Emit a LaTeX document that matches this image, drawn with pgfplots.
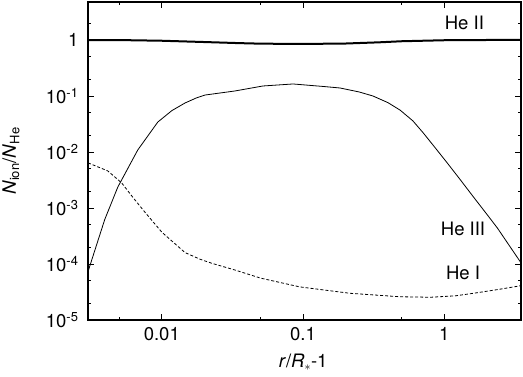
\documentclass[border=0pt]{standalone}
\usepackage{fontspec}
\setmainfont{TeX Gyre Heros}
\usepackage{pgfplots}
\pgfplotsset{compat=1.18}
\begin{document}
\begin{tikzpicture}[font=\fontsize{18.5bp}{22bp}\selectfont]
\useasboundingbox (0,0) rectangle (523bp,377bp);
\begin{axis}[
  at={(88bp,57bp)}, anchor=south west,
  scale only axis, width=433bp, height=318bp,
  xmode=log, ymode=log,
  xmin=0.003, xmax=3.5, ymin=1e-5, ymax=4.77,
  xtick={0.01,0.1,1}, xticklabels={0.01,0.1,1},
  minor xtick={0.005,0.05,0.5},
  ytick={1e-5,1e-4,1e-3,1e-2,1e-1,1},
  yticklabels={10\textsuperscript{-5},10\textsuperscript{-4},10\textsuperscript{-3},10\textsuperscript{-2},10\textsuperscript{-1},1},
  minor ytick={2e-5,5e-5,2e-4,5e-4,2e-3,5e-3,0.02,0.05,0.2,0.5,2},
  tick align=inside, tick pos=both,
  major tick length=6bp, minor tick length=3.5bp,
  tick style={line width=0.8bp, black},
  axis line style={line width=1.6bp},
  yticklabel style={anchor=east, xshift=-6bp},
  xticklabel style={anchor=north, yshift=-4bp},
  xlabel={\textit{r}/\textit{R}\textsubscript{$\ast$}-1},
  ylabel={\textit{N}\textsubscript{ion}/\textit{N}\textsubscript{He}},
  xlabel style={at={(axis description cs:0.497,-0.132)}, anchor=center},
  ylabel style={at={(axis description cs:-0.178,0.5)}, anchor=center, rotate=0},
  clip=true,
]
% He II
\addplot[black, line width=2bp] coordinates {
(0.003,1.0) (0.006,0.99) (0.01,0.97) (0.02,0.92) (0.035,0.88) (0.05,0.86)
(0.1,0.85) (0.2,0.865) (0.35,0.91) (0.5,0.95) (1,0.99) (2,1.0) (3.5,1.0)};
% He III
\addplot[black, line width=0.8bp] coordinates {
(0.003,7.3e-5) (0.00394,6.2e-4) (0.00488,2.37e-3) (0.00676,0.0109)
(0.00937,0.0343) (0.0118,0.055) (0.0146,0.075) (0.0175,0.092) (0.0202,0.104)
(0.033,0.123) (0.052,0.151) (0.085,0.164) (0.139,0.148) (0.183,0.139)
(0.25,0.118) (0.313,0.100) (0.4,0.076) (0.487,0.056) (0.6,0.036) (0.71,0.022)
(0.85,0.0125) (1.05,0.0064) (1.3,0.0032) (1.61,0.00158) (2.0,7.8e-4) (2.38,4.4e-4) (3.5,1.05e-4)};
% He I
\addplot[black, line width=0.8bp, dash pattern=on 3bp off 2bp] coordinates {
(0.003,6.4e-3) (0.00414,4.6e-3) (0.0052,2.8e-3) (0.0063,1.5e-3) (0.00757,8.5e-4)
(0.01,3.7e-4) (0.0146,1.6e-4) (0.0186,1.22e-4) (0.0226,1.03e-4) (0.033,7.8e-5)
(0.05,5.6e-5) (0.095,3.9e-5) (0.215,3.0e-5) (0.487,2.6e-5) (0.8,2.55e-5)
(1.2,2.7e-5) (1.61,3.0e-5) (2.4,3.5e-5) (3.5,4.1e-5)};
\node at (axis cs:1.39,2.0) {He II};
\node at (axis cs:1.36,4.2e-4) {He III};
\node at (axis cs:1.36,6.9e-5) {He I};
\end{axis}
\end{tikzpicture}
\end{document}
